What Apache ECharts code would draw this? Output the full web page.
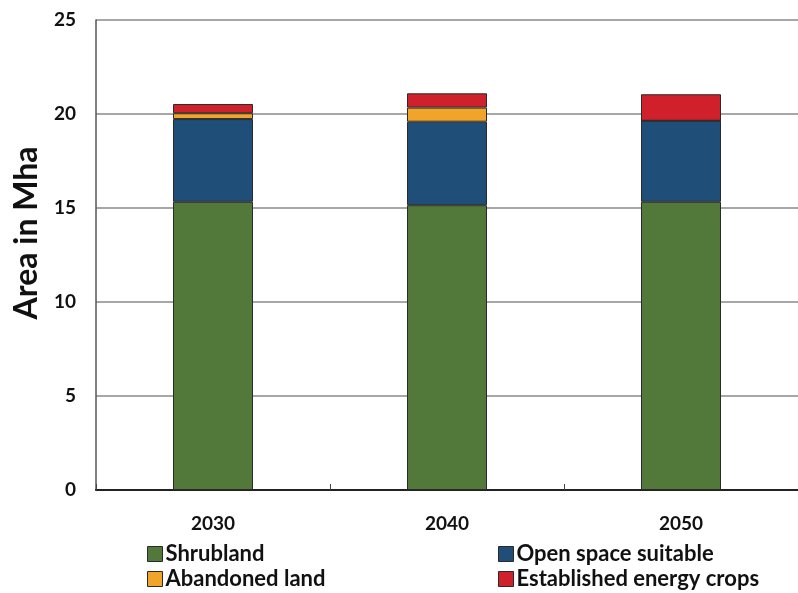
<!DOCTYPE html>
<html>
<head>
<meta charset="utf-8">
<script src="https://cdn.jsdelivr.net/npm/echarts@6/dist/echarts.min.js"></script>
<style>
  html, body { margin: 0; padding: 0; background: #fff; }
  #chart { width: 798px; height: 593px; }
</style>
</head>
<body>
<div id="chart"></div>
<script>
// Land area by category (Mha)
const years = ['2030', '2040', '2050'];
const shrubland = [15.33, 15.15, 15.33];
const openSpace = [4.40, 4.44, 4.31];
const abandoned = [0.31, 0.75, 0.0];
const energyCrops = [0.49, 0.76, 1.41];
const yTicks = [0, 5, 10, 15, 20, 25];
const seriesNames = ['Shrubland', 'Open space suitable', 'Abandoned land', 'Established energy crops'];

const FONT = 'Lato, "Open Sans", sans-serif';
const colors = ['#52793a', '#1f4e79', '#f0a52a', '#d0202c'];

function barSeries(i, data) {
  return {
    name: seriesNames[i],
    type: 'bar',
    stack: 'area',
    barWidth: 80,
    data: data,
    itemStyle: { color: colors[i], borderColor: '#2a2a2a', borderWidth: 1 }
  };
}

// one legend entry per block, laid out as two columns of two rows
const legendSlots = [
  { name: seriesNames[0], left: 147, top: 543 },
  { name: seriesNames[1], left: 498, top: 543 },
  { name: seriesNames[2], left: 147, top: 568 },
  { name: seriesNames[3], left: 498, top: 568 }
];

const chart = echarts.init(document.getElementById('chart'));
chart.setOption({
  animation: false,
  grid: { left: 96, top: 20, width: 704, bottom: 103 },
  xAxis: {
    type: 'category',
    data: years,
    axisLine: { lineStyle: { color: '#222', width: 2 } },
    axisTick: { show: true, inside: true, length: 6, lineStyle: { color: '#444' } },
    axisLabel: { color: '#111', fontFamily: FONT, fontWeight: 'bold', fontSize: 19, margin: 24 }
  },
  yAxis: {
    type: 'value',
    min: yTicks[0],
    max: yTicks[yTicks.length - 1],
    interval: 5,
    name: 'Area in Mha',
    nameLocation: 'middle',
    nameGap: 52,
    nameTextStyle: {
      color: '#111', fontFamily: FONT, fontWeight: 'bold', fontSize: 32,
      padding: [0, 0, 0, 44]
    },
    axisLine: { show: true, lineStyle: { color: '#555', width: 1.5 } },
    axisTick: { show: false },
    axisLabel: { color: '#111', fontFamily: FONT, fontWeight: 'bold', fontSize: 19, margin: 20 },
    splitLine: { lineStyle: { color: '#8a8a8a', width: 1.5 } }
  },
  legend: legendSlots.map(s => ({
    left: s.left,
    top: s.top,
    padding: 0,
    icon: 'rect',
    itemWidth: 15,
    itemHeight: 15,
    itemGap: 0,
    data: [s.name],
    itemStyle: { borderColor: '#2a2a2a', borderWidth: 1 },
    textStyle: { color: '#111', fontFamily: FONT, fontWeight: 'bold', fontSize: 22, padding: [0, 0, 0, -2] }
  })),
  series: [
    barSeries(0, shrubland),
    barSeries(1, openSpace),
    barSeries(2, abandoned),
    barSeries(3, energyCrops)
  ]
});
</script>
</body>
</html>
